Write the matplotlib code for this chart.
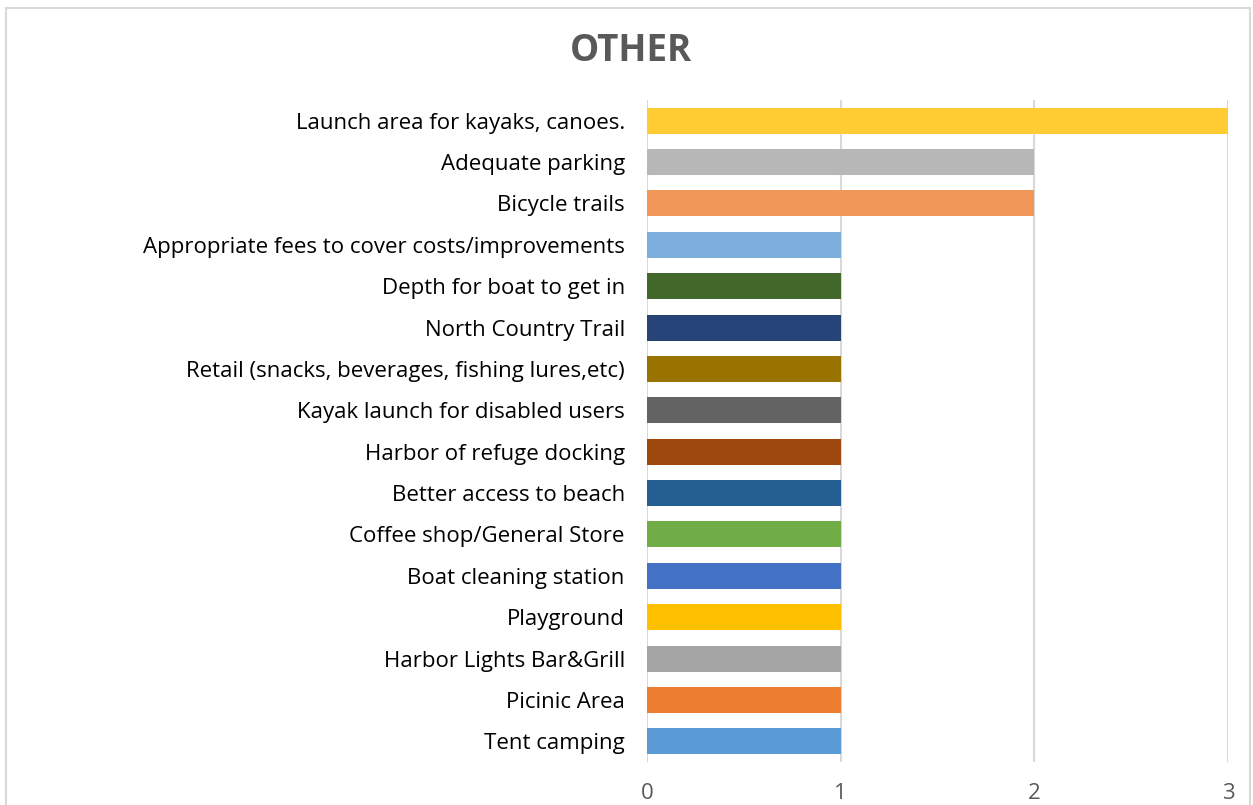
import matplotlib
matplotlib.use("Agg")
import matplotlib.pyplot as plt
from matplotlib.patches import Rectangle

categories = [
    "Launch area for kayaks, canoes.",
    "Adequate parking",
    "Bicycle trails",
    "Appropriate fees to cover costs/improvements",
    "Depth for boat to get in",
    "North Country Trail",
    "Retail (snacks, beverages, fishing lures,etc)",
    "Kayak launch for disabled users",
    "Harbor of refuge docking",
    "Better access to beach",
    "Coffee shop/General Store",
    "Boat cleaning station",
    "Playground",
    "Harbor Lights Bar&Grill",
    "Picinic Area",
    "Tent camping",
]
values = [3, 2, 2, 1, 1, 1, 1, 1, 1, 1, 1, 1, 1, 1, 1, 1]
colors = ["#FFCD33", "#B7B7B7", "#F1975A", "#7CAFDD", "#43682B", "#264478",
          "#997300", "#636363", "#9E480E", "#255E91", "#70AD47", "#4472C4",
          "#FFC000", "#A5A5A5", "#ED7D31", "#5B9BD5"]
xticks = [0, 1, 2, 3]
title = "OTHER"

plt.rcParams['font.family'] = ['Open Sans', 'DejaVu Sans']

W, H = 1253, 805
fig = plt.figure(figsize=(W / 100, H / 100), dpi=100)
ax = fig.add_axes([647 / W, 1 - 762 / H, (1228 - 647) / W, (762 - 100) / H])

n = len(categories)
ypos = list(range(n))[::-1]
ax.barh(ypos, values, height=0.63, color=colors, zorder=3)
ax.set_ylim(-0.5, n - 0.5)
ax.set_xlim(0, 3)
ax.set_yticks(ypos)
ax.set_yticklabels(categories, fontsize=16, color="#000000")
ax.set_xticks(xticks)
ax.set_xticklabels([str(t) for t in xticks], fontsize=16, color="#595959")
ax.tick_params(axis='both', length=0)
ax.tick_params(axis='y', pad=16)
ax.tick_params(axis='x', pad=15)
ax.grid(axis='x', color="#D9D9D9", linewidth=1.5, zorder=0)
for s in ax.spines.values():
    s.set_visible(False)

fig.text(631 / W, 1 - 51 / H, title, ha='center', va='center', fontsize=26.5,
         fontweight='bold', color="#595959")

fig.patches.append(Rectangle((6 / W, -0.05), (1250 - 6) / W, 1.05 - 8 / H,
                             transform=fig.transFigure, fill=False,
                             edgecolor="#D9D9D9", linewidth=1.5))

fig.savefig("out.png", dpi=100)
